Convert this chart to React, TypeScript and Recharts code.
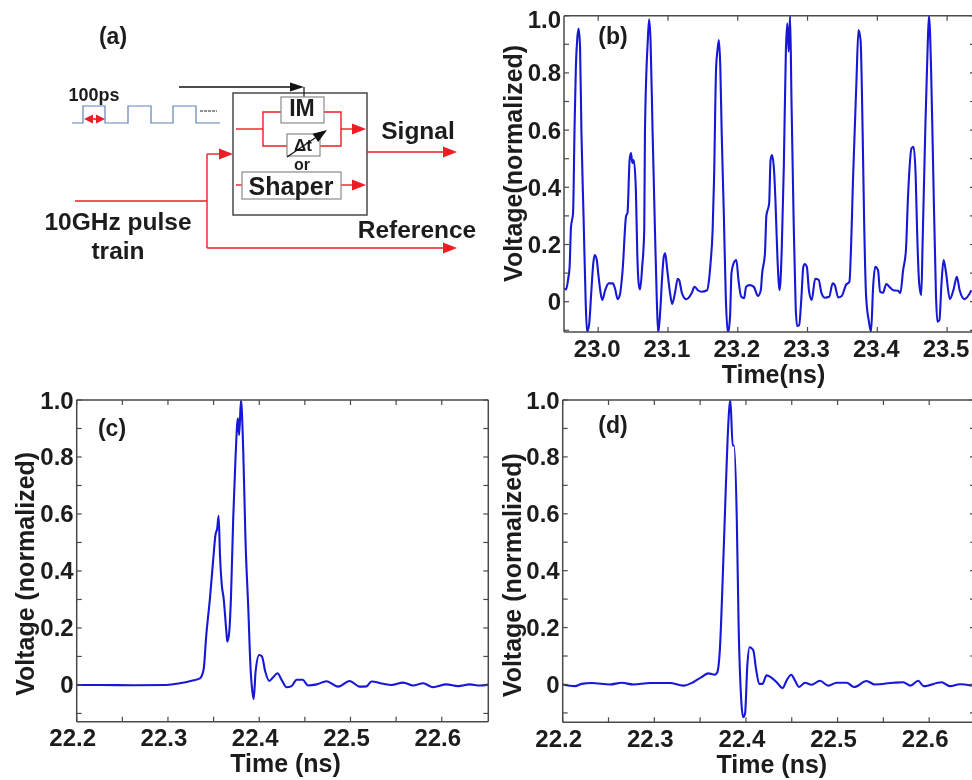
import React from 'react';
import { LineChart, Line, XAxis, YAxis, Label } from 'recharts';

const FONT = '"Liberation Sans", Arial, sans-serif';
const INK = '#1c1c1c';
const FRAME = '#4a4a4a';
const BLUE = '#1717d6';
const RED = '#ee1c25';

const timeB = [22.951,22.954,22.957,22.959,22.961,22.964,22.966,22.968,22.970,22.972,22.974,22.976,22.979,22.982,22.984,22.987,22.990,22.993,22.995,22.998,23.000,23.004,23.006,23.010,23.015,23.021,23.024,23.028,23.031,23.035,23.040,23.042,23.045,23.047,23.049,23.051,23.054,23.056,23.058,23.060,23.063,23.066,23.067,23.071,23.073,23.075,23.078,23.081,23.084,23.086,23.089,23.092,23.094,23.096,23.099,23.103,23.106,23.110,23.114,23.116,23.120,23.126,23.129,23.134,23.138,23.143,23.148,23.156,23.159,23.161,23.164,23.166,23.169,23.171,23.173,23.175,23.177,23.180,23.183,23.186,23.189,23.191,23.194,23.198,23.201,23.205,23.209,23.212,23.217,23.223,23.229,23.233,23.235,23.239,23.241,23.245,23.247,23.249,23.252,23.254,23.257,23.260,23.263,23.266,23.269,23.271,23.273,23.275,23.277,23.280,23.283,23.285,23.288,23.291,23.294,23.296,23.299,23.302,23.306,23.311,23.316,23.320,23.325,23.331,23.336,23.339,23.344,23.349,23.355,23.360,23.363,23.365,23.370,23.373,23.376,23.379,23.381,23.384,23.388,23.391,23.394,23.397,23.401,23.404,23.408,23.413,23.418,23.423,23.430,23.433,23.437,23.441,23.444,23.449,23.452,23.455,23.457,23.460,23.463,23.465,23.469,23.472,23.474,23.477,23.480,23.484,23.486,23.489,23.492,23.495,23.498,23.504,23.509,23.514,23.518,23.525,23.535];
const voltB = [0.047,0.043,0.08,0.12,0.26,0.31,0.59,0.82,0.92,0.955,0.89,0.59,0.30,0.005,-0.105,-0.08,0.03,0.135,0.163,0.146,0.10,0.023,0.006,0.04,0.064,0.064,0.047,0.009,0.023,0.11,0.30,0.31,0.495,0.52,0.485,0.495,0.39,0.17,0.064,0.043,0.12,0.25,0.59,0.91,0.987,0.915,0.59,0.285,0.006,-0.11,-0.03,0.10,0.157,0.169,0.11,0.03,-0.008,0.03,0.08,0.076,0.03,0.009,0.012,0.03,0.052,0.04,0.035,0.04,0.08,0.134,0.25,0.425,0.82,0.88,0.915,0.82,0.59,0.31,0.006,-0.11,-0.05,0.10,0.134,0.146,0.076,0.017,0.012,0.052,0.058,0.052,0.02,0.04,0.10,0.169,0.30,0.344,0.495,0.513,0.46,0.355,0.146,0.04,0.18,0.47,0.88,0.973,0.874,1.0,0.705,0.297,-0.017,-0.085,-0.082,0.006,0.122,0.132,0.122,0.04,0.006,0.08,0.076,0.03,0.014,0.017,0.064,0.058,0.015,0.02,0.058,0.07,0.24,0.414,0.763,0.95,0.915,0.59,0.297,0.017,-0.07,-0.105,0.052,0.122,0.11,0.035,0.031,0.062,0.05,0.04,0.038,0.03,0.11,0.18,0.367,0.536,0.542,0.437,0.25,0.064,0.023,0.216,0.624,0.88,1.0,0.82,0.472,0.03,-0.07,-0.064,0.064,0.146,0.11,0.009,0.04,0.087,0.04,0.009,0.04];

const timeC = [22.2,22.2255,22.262,22.2985,22.313,22.326,22.335,22.339,22.342,22.346,22.350,22.352,22.354,22.3555,22.357,22.359,22.361,22.364,22.365,22.367,22.369,22.3715,22.374,22.3766,22.378,22.380,22.3825,22.385,22.388,22.3905,22.393,22.394,22.396,22.400,22.403,22.4066,22.411,22.415,22.420,22.4245,22.430,22.4354,22.441,22.4475,22.4536,22.463,22.4737,22.4865,22.499,22.510,22.5175,22.523,22.536,22.545,22.5577,22.5686,22.5796,22.5905,22.605,22.618,22.6307,22.6416,22.651];
const voltC = [0,0,-0.001,0,0.006,0.015,0.023,0.053,0.175,0.304,0.456,0.526,0.55,0.594,0.456,0.35,0.304,0.187,0.152,0.181,0.304,0.585,0.795,0.936,0.877,1.0,0.819,0.503,0.269,0.058,-0.035,-0.049,0.047,0.105,0.10,0.047,0.014,0.026,0.041,0.018,-0.008,-0.004,0.018,0.018,-0.002,0.002,0.013,-0.006,0.014,-0.006,-0.005,0.012,0.004,0,0.008,-0.002,0.006,-0.008,0.002,-0.004,0.002,-0.002,0.001];

const timeD = [22.2,22.2135,22.2207,22.2316,22.2516,22.2644,22.277,22.2953,22.317,22.3316,22.3425,22.3516,22.359,22.366,22.3687,22.3716,22.3745,22.3775,22.380,22.383,22.3855,22.387,22.390,22.392,22.395,22.397,22.399,22.4015,22.404,22.408,22.411,22.4145,22.418,22.4225,22.427,22.4335,22.440,22.4444,22.4495,22.4535,22.458,22.4644,22.4716,22.4807,22.49,22.499,22.51,22.518,22.5316,22.5407,22.5607,22.5716,22.5796,22.588,22.594,22.6135,22.6225,22.6335,22.6465];
const voltD = [0,-0.006,0.002,0.005,0,0.006,0,0.005,0.005,-0.004,0.008,0.026,0.039,0.034,0.043,0.126,0.36,0.642,0.865,1.0,0.84,0.84,0.583,0.208,-0.062,-0.115,-0.103,0.067,0.131,0.12,0.055,0.002,0.002,0.032,0.026,0.008,-0.013,0.014,0.034,0.014,-0.009,0.006,-0.001,0.013,-0.004,0.006,0.006,-0.009,0.012,0,0.006,0.008,-0.004,0.013,-0.006,0.008,-0.006,0.001,-0.004];

const xTicksB = [23.0,23.1,23.2,23.3,23.4,23.5];
const xTicksCD = [22.2,22.25,22.3,22.35,22.4,22.45,22.5,22.55,22.6];
const yTicks = [-0.1,0,0.1,0.2,0.3,0.4,0.5,0.6,0.7,0.8,0.9,1.0];
const yLabelled = [0,0.2,0.4,0.6,0.8,1.0];
const xLabelled = [23.0,23.1,23.2,23.3,23.4,23.5,22.2,22.3,22.4,22.5,22.6];

const rows = (t: number[], v: number[]) => t.map((time, i) => ({ time, volt: v[i] }));

const TICK_LEN = 5;
const TICK_FS = 24;

function makeTick(side: string, dx = 0, topDy = 0) {
  return (p: any) => {
    const { x, y, payload } = p;
    const v = payload.value;
    const line =
      side === 'bottom' ? { x1: x, x2: x, y1: y, y2: y - TICK_LEN } :
      side === 'top' ? { x1: x, x2: x, y1: y, y2: y + TICK_LEN } :
      side === 'left' ? { x1: x, x2: x + TICK_LEN, y1: y, y2: y } :
      { x1: x, x2: x - TICK_LEN, y1: y, y2: y };
    const txtStyle = { fontFamily: FONT, fontWeight: 700, fontSize: TICK_FS, fill: INK };
    return (
      <g>
        <line {...line} stroke={FRAME} strokeWidth={1.2} />
        {side === 'bottom' && xLabelled.includes(v) && (
          <text x={x + dx} y={y + 16} textAnchor="middle" dominantBaseline="central" style={txtStyle}>{v.toFixed(1)}</text>
        )}
        {side === 'left' && yLabelled.includes(v) && (
          <text x={x - 3} y={y + (v === 1 ? topDy : 0)} textAnchor="end" dominantBaseline="central" style={txtStyle}>{v === 0 ? '0' : v.toFixed(1)}</text>
        )}
      </g>
    );
  };
}

const titleStyle = { fontFamily: FONT, fontWeight: 700, fontSize: 25, fill: INK };

type PanelProps = {
  left: number; top: number; width: number; height: number;
  margin: { left: number; right: number; top: number; bottom: number };
  data: { time: number; volt: number }[];
  xDomain: [number, number]; yDomain: [number, number]; xTicks: number[];
  xTitle: string; yTitle: string; tag: string; tagX: number; tagY: number;
  dx: number; topDy: number; xTitleDx: number; yTitleOffset: number; yTitleDy: number;
};

function Panel(p: PanelProps) {
  const axisLine = { stroke: FRAME, strokeWidth: 1.5 };
  return (
    <div style={{ position: 'absolute', left: p.left, top: p.top }}>
      <LineChart width={p.width} height={p.height} data={p.data} margin={p.margin}>
        <XAxis xAxisId="b" type="number" dataKey="time" orientation="bottom" height={1} domain={p.xDomain} ticks={p.xTicks}
          allowDataOverflow interval={0} tickSize={0} tickMargin={0} axisLine={axisLine} tickLine={false} tick={makeTick('bottom', p.dx)}>
          <Label value={p.xTitle} position="bottom" offset={32} dx={p.xTitleDx} style={titleStyle} />
        </XAxis>
        <XAxis xAxisId="t" type="number" dataKey="time" orientation="top" height={1} domain={p.xDomain} ticks={p.xTicks}
          allowDataOverflow interval={0} tickSize={0} tickMargin={0} axisLine={axisLine} tickLine={false} tick={makeTick('top')} />
        <YAxis yAxisId="l" type="number" orientation="left" width={1} domain={p.yDomain} ticks={yTicks}
          allowDataOverflow interval={0} tickSize={0} tickMargin={0} axisLine={axisLine} tickLine={false} tick={makeTick('left', 0, p.topDy)}>
          <Label value={p.yTitle} angle={-90} position="left" offset={p.yTitleOffset} dy={p.yTitleDy} style={titleStyle} />
        </YAxis>
        <YAxis yAxisId="r" type="number" orientation="right" width={1} domain={p.yDomain} ticks={yTicks}
          allowDataOverflow interval={0} tickSize={0} tickMargin={0} axisLine={axisLine} tickLine={false} tick={makeTick('right')} />
        <Line xAxisId="b" yAxisId="l" type="monotoneX" dataKey="volt" stroke={BLUE} strokeWidth={2.1} dot={false} activeDot={false} isAnimationActive={false} />
        <text x={p.tagX} y={p.tagY} textAnchor="middle" dominantBaseline="central" style={{ fontFamily: FONT, fontWeight: 700, fontSize: 23, fill: INK }}>{p.tag}</text>
      </LineChart>
    </div>
  );
}

function Arrow({ x1, y1, x2, y2, color, len = 14, half = 5.5, width = 1.4 }: any) {
  const a = Math.atan2(y2 - y1, x2 - x1);
  const bx = x2 - len * Math.cos(a), by = y2 - len * Math.sin(a);
  const nx = -Math.sin(a) * half, ny = Math.cos(a) * half;
  return (
    <g>
      <line x1={x1} y1={y1} x2={bx} y2={by} stroke={color} strokeWidth={width} />
      <polygon points={`${x2},${y2} ${bx + nx},${by + ny} ${bx - nx},${by - ny}`} fill={color} />
    </g>
  );
}

function Schematic() {
  const t = (x: number, y: number, s: string, fs: number) => (
    <text x={x} y={y} textAnchor="middle" dominantBaseline="central" style={{ fontFamily: FONT, fontWeight: 700, fontSize: fs, fill: INK }}>{s}</text>
  );
  return (
    <svg width={490} height={290} style={{ position: 'absolute', left: 0, top: 0 }}>
      <rect x={233} y={93} width={134} height={122} fill="none" stroke={FRAME} strokeWidth={1.5} />
      <polyline points="72,123 83,123 83,106 105,106 105,123 128,123 128,106 151,106 151,123 173,123 173,106 196,106 196,123 220,123" fill="none" stroke="#5f82b8" strokeWidth={1.2} />
      <line x1={200} x2={217} y1={111} y2={111} stroke="#222" strokeWidth={1} strokeDasharray="3 1" />
      <Arrow x1={95} y1={119} x2={84} y2={119} color={RED} len={9} half={4.5} />
      <Arrow x1={94} y1={119} x2={105} y2={119} color={RED} len={9} half={4.5} />
      <Arrow x1={179} y1={87} x2={304} y2={87} color="#111" len={14} half={4.5} />
      <line x1={304} x2={304} y1={87} y2={97} stroke="#111" strokeWidth={1.2} />
      <g stroke={RED} strokeWidth={1.4} fill="none">
        <line x1={236} x2={263} y1={129} y2={129} />
        <polyline points="281,112 263,112 263,146 287,146" />
        <polyline points="324,112 341,112 341,146 320,146" />
        <line x1={236} x2={242} y1={185} y2={185} />
        <polyline points="75,201 207,201" />
        <polyline points="207,154 207,248" />
      </g>
      <Arrow x1={341} y1={129} x2={366} y2={129} color={RED} />
      <Arrow x1={341} y1={185} x2={366} y2={185} color={RED} />
      <Arrow x1={367} y1={152} x2={457} y2={152} color={RED} />
      <Arrow x1={207} y1={248} x2={457} y2={248} color={RED} />
      <Arrow x1={207} y1={154} x2={233} y2={154} color={RED} />
      <rect x={281} y={97} width={43} height={26} fill="#fff" stroke="#8a8a8a" strokeWidth={1.2} />
      <rect x={287} y={134} width={33} height={22} fill="#fff" stroke="#8a8a8a" strokeWidth={1.2} />
      <rect x={242} y={172} width={99} height={27} fill="#fff" stroke="#8a8a8a" strokeWidth={1.2} />
      {t(302, 108, 'IM', 23)}
      {t(303, 145, 'Δt', 17)}
      <Arrow x1={287} y1={157} x2={327} y2={130} color="#111" len={14} half={5} width={1.2} />
      {t(302, 164, 'or', 16)}
      {t(291, 186, 'Shaper', 25)}
      {t(113, 36, '(a)', 23)}
      {t(94, 95, '100ps', 18)}
      {t(418, 130, 'Signal', 24.5)}
      {t(417, 229, 'Reference', 24.5)}
      {t(118, 221, '10GHz pulse', 24.5)}
      {t(118, 250, 'train', 24.5)}
    </svg>
  );
}

const dataB = rows(timeB, voltB);
const dataC = rows(timeC, voltC);
const dataD = rows(timeD, voltD);

export default function App() {
  return (
    <div style={{ position: 'absolute', left: 0, top: 0, width: 972, height: 780, overflow: 'hidden', background: '#fff', filter: 'blur(0.4px)' }}>
      <Schematic />
      <Panel left={490} top={0} width={486} height={390} margin={{ left: 73, right: 0, top: 14.7, bottom: 57 }}
        data={dataB} xDomain={[22.951, 23.54]} yDomain={[-0.106, 1.0]} xTicks={xTicksB}
        xTitle="Time(ns)" yTitle="Voltage(normalized)" tag="(b)" tagX={123} tagY={36} dx={-1} topDy={4} xTitleDx={4} yTitleOffset={50} yTitleDy={-129} />
      <Panel left={0} top={385} width={490} height={395} margin={{ left: 75.7, right: 0.7, top: 14, bottom: 57.3 }}
        data={dataC} xDomain={[22.2, 22.651]} yDomain={[-0.129, 1.0]} xTicks={xTicksCD}
        xTitle="Time (ns)" yTitle="Voltage (normalized)" tag="(c)" tagX={112} tagY={43} dx={-4} topDy={0} xTitleDx={3} yTitleOffset={51} yTitleDy={-109} />
      <Panel left={490} top={385} width={486} height={395} margin={{ left: 71.7, right: 0, top: 14, bottom: 56.7 }}
        data={dataD} xDomain={[22.2, 22.65]} yDomain={[-0.133, 1.0]} xTicks={xTicksCD}
        xTitle="Time (ns)" yTitle="Voltage (normalized)" tag="(d)" tagX={123} tagY={40} dx={-4} topDy={0} xTitleDx={3} yTitleOffset={50} yTitleDy={-108} />
    </div>
  );
}
